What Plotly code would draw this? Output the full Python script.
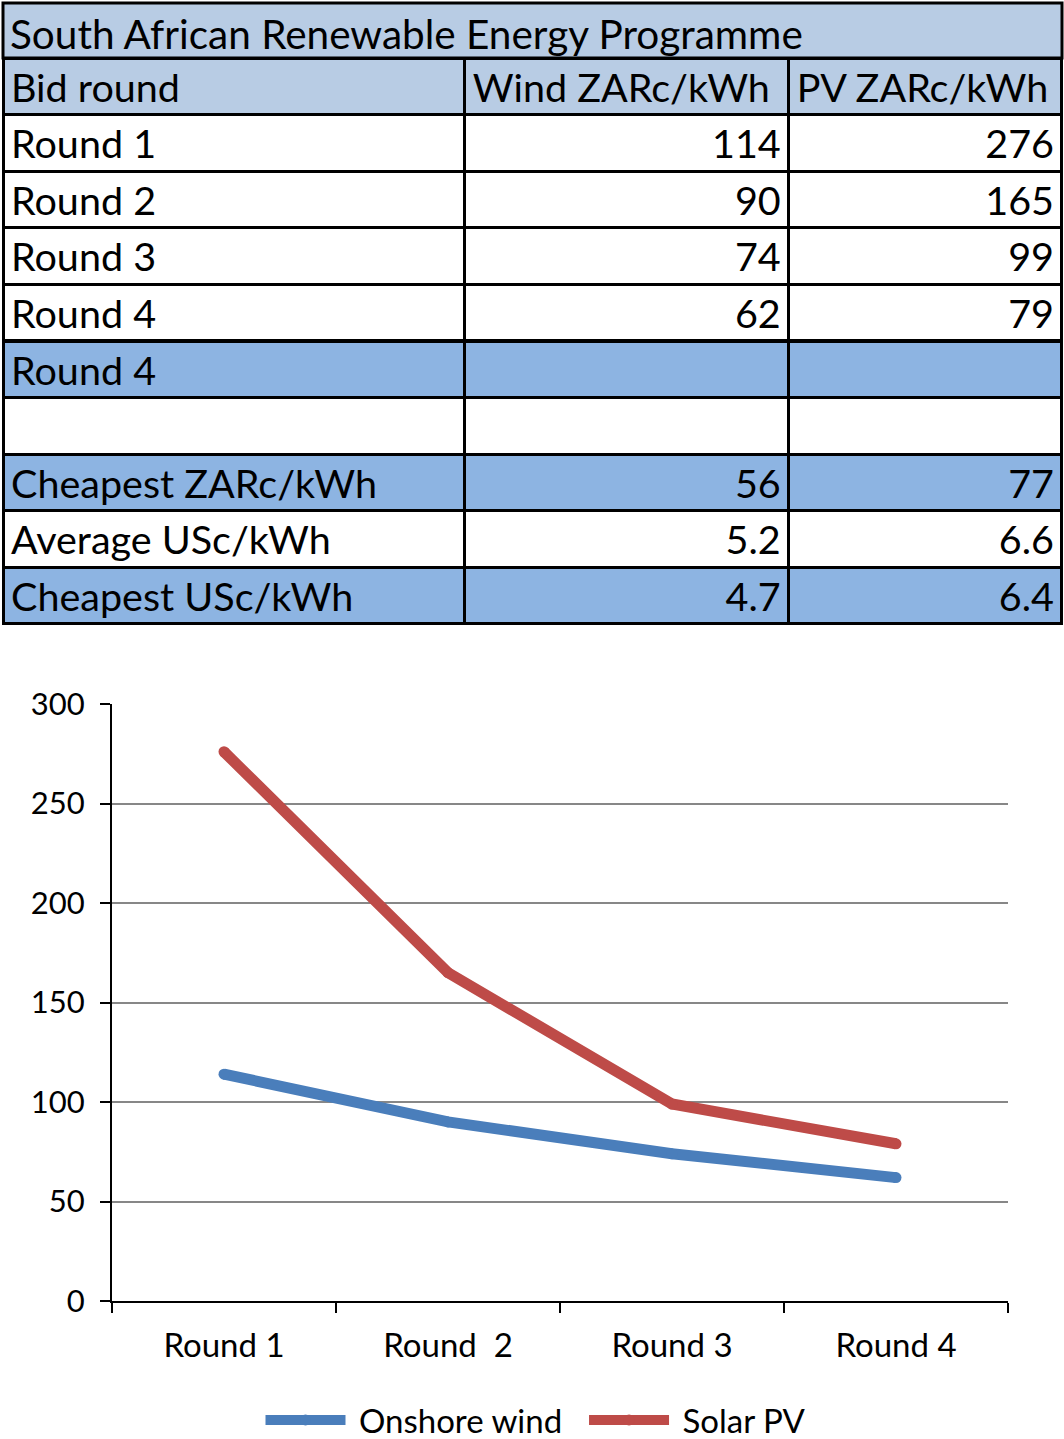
import plotly.graph_objects as go

W, H = 1064, 1439

# ---- data ----
title_text = "South African Renewable Energy Programme"
table_header = ["Bid round", "Wind ZARc/kWh", "PV ZARc/kWh"]
row_labels = ["Round 1", "Round 2", "Round 3", "Round 4", "Round 4", "",
              "Cheapest ZARc/kWh", "Average USc/kWh", "Cheapest USc/kWh"]
wind_col = ["114", "90", "74", "62", "", "", "56", "5.2", "4.7"]
pv_col = ["276", "165", "99", "79", "", "", "77", "6.6", "6.4"]
highlight_rows = [False, False, False, False, True, False, True, False, True]

rounds = ["Round 1", "Round  2", "Round 3", "Round 4"]
onshore_wind = [114, 90, 74, 62]
solar_pv = [276, 165, 99, 79]
y_ticks = [0, 50, 100, 150, 200, 250, 300]

FONT = "Lato"
LIGHT = "#B8CCE4"
DARK = "#8DB4E2"
TFS = 39.5
ROW_H = 56.6
CLEAR = "rgba(0,0,0,0)"

def py(px):
    return 1 - px / H

def pxx(px):
    return px / W

def nb(s):
    return s.replace(" ", "\u00a0")

fig = go.Figure()

# ---- table: grid and fills ----
row_fill = [DARK if h else "white" for h in highlight_rows]
n_rows = len(row_labels)
blank = [""] * n_rows
fig.add_trace(go.Table(
    domain=dict(x=[pxx(3), pxx(1062)], y=[py(640), py(58)]),
    columnwidth=[463, 325, 274],
    header=dict(values=["", "", ""], fill_color=LIGHT,
                line=dict(color="black", width=3),
                font=dict(family=FONT, size=TFS, color="black"),
                height=ROW_H),
    cells=dict(values=[blank, blank, blank],
               fill_color=[row_fill, row_fill, row_fill],
               line=dict(color="black", width=3),
               font=dict(family=FONT, size=TFS, color="black"),
               height=ROW_H),
))
# ---- table: text layer (shifted slightly down to centre text in rows) ----
fig.add_trace(go.Table(
    domain=dict(x=[pxx(3), pxx(1062)], y=[py(660), py(64)]),
    columnwidth=[463, 325, 274],
    header=dict(values=[nb(v) for v in table_header], fill_color=CLEAR,
                line=dict(color=CLEAR, width=0),
                align=["left", "left", "left"],
                font=dict(family=FONT, size=TFS, color="black"),
                height=ROW_H),
    cells=dict(values=[[nb(v) for v in row_labels], wind_col, pv_col],
               fill_color=CLEAR,
               line=dict(color=CLEAR, width=0),
               align=["left", "right", "right"],
               font=dict(family=FONT, size=TFS, color="black"),
               height=ROW_H),
))

fig.add_shape(type="rect", xref="paper", yref="paper",
              x0=pxx(3), x1=pxx(1062), y0=py(58), y1=py(3),
              fillcolor=LIGHT, line=dict(color="black", width=3))
fig.add_annotation(text=title_text, xref="paper", yref="paper",
                   x=pxx(8), y=py(33), xanchor="left", yanchor="middle",
                   showarrow=False, font=dict(family=FONT, size=40.5, color="black"))

# ---- chart ----
fig.add_trace(go.Scatter(x=rounds, y=onshore_wind, mode="lines+markers",
                         name="\u00a0Onshore wind\u00a0\u00a0",
                         line=dict(color="#4A7EBB", width=11),
                         marker=dict(color="#4A7EBB", size=11)))
fig.add_trace(go.Scatter(x=rounds, y=solar_pv, mode="lines+markers",
                         name="\u00a0Solar PV",
                         line=dict(color="#BE4B48", width=11),
                         marker=dict(color="#BE4B48", size=11)))

fig.update_layout(
    width=W, height=H,
    margin=dict(l=0, r=0, t=0, b=0, pad=0, autoexpand=False),
    paper_bgcolor="white", plot_bgcolor="white",
    font=dict(family=FONT, size=31, color="black"),
    showlegend=True,
    legend=dict(orientation="h", x=0.5 + 4 / W, xanchor="center", y=py(1420), yanchor="middle",
                itemwidth=80, font=dict(family=FONT, size=33, color="black")),
    xaxis=dict(domain=[pxx(112), pxx(1008)], type="category", range=[-0.5, 3.5],
               showline=True, linecolor="black", linewidth=2, showgrid=False,
               ticks="outside", ticklen=10, tickwidth=2, tickcolor="black",
               tickson="boundaries", ticklabelstandoff=14, zeroline=False,
               tickfont=dict(family=FONT, size=33, color="black")),
    yaxis=dict(domain=[py(1301), py(704)], range=[0, 300], tickvals=y_ticks,
               showline=True, linecolor="black", linewidth=2,
               showgrid=True, gridcolor="#878787", gridwidth=2,
               ticks="outside", ticklen=10, tickwidth=2, tickcolor="black",
               ticklabelstandoff=9, zeroline=False,
               tickfont=dict(family=FONT, size=31, color="black")),
)

fig.write_html("out.html", config={"displayModeBar": False},
               post_script="document.body.style.margin='0';document.body.style.overflow='hidden';")
